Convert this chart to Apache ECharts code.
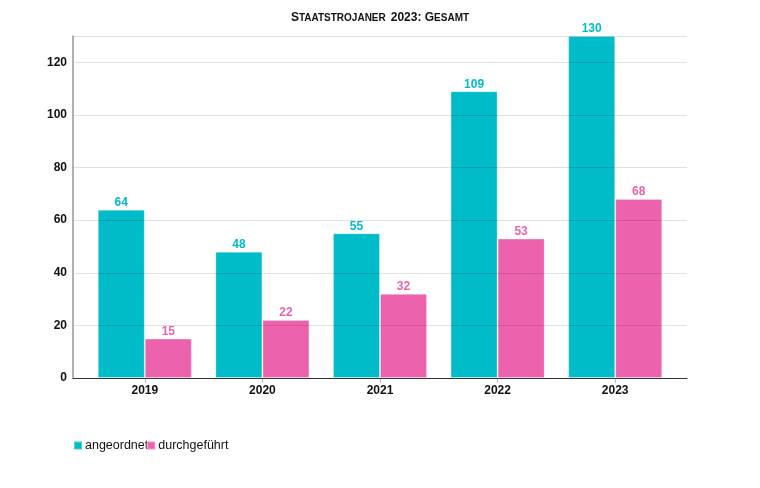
<!DOCTYPE html>
<html><head><meta charset="utf-8">
<script src="https://cdn.jsdelivr.net/npm/echarts@6/dist/echarts.min.js"></script>
<style>html,body{margin:0;padding:0;background:#fff}#c{width:760px;height:488px}</style>
</head><body><div id="c"></div>
<script>
const categories = ['2019', '2020', '2021', '2022', '2023'];
const angeordnet = [64, 48, 55, 109, 130];
const durchgefuehrt = [15, 22, 32, 53, 68];
const seriesNames = ['angeordnet', 'durchgeführt'];

const chart = echarts.init(document.getElementById('c'));
const ff = 'Liberation Sans, Arial, sans-serif';
const yMax = 130;
chart.setOption({
  animation: false,
  title: {
    text: '{b|S}{s|TAATSTROJANER} {b|2023: G}{s|ESAMT}',
    left: 'center', top: 4,
    textStyle: {
      fontFamily: ff,
      rich: {
        b: { fontSize: 12, fontWeight: 'bold', color: '#111', fontFamily: ff },
        s: { fontSize: 10, fontWeight: 'bold', color: '#111', fontFamily: ff }
      }
    }
  },
  legend: {
    left: 73, top: 439, padding: 0, itemWidth: 8, itemHeight: 8, itemGap: -2,
    icon: 'rect',
    textStyle: { fontFamily: ff, fontSize: 12.5, color: '#111', padding: [0, 0, 0, -2] },
    data: seriesNames
  },
  grid: [
    { left: 73, right: 73, top: 36, bottom: 110, containLabel: false },
    { left: 86, right: 86, top: 36, bottom: 110, containLabel: false }
  ],
  xAxis: [
    {
      type: 'category', gridIndex: 0, data: categories, z: 4,
      axisLine: { lineStyle: { color: '#333', width: 1 } },
      axisTick: { show: false }, axisLabel: { show: false }
    },
    {
      type: 'category', gridIndex: 1, data: categories,
      axisLine: { show: false },
      axisTick: { show: true, alignWithLabel: true, length: 5, lineStyle: { color: '#bbb' } },
      axisLabel: { fontFamily: ff, fontSize: 12, fontWeight: 'bold', color: '#111', margin: 7 }
    }
  ],
  yAxis: [
    {
      type: 'value', gridIndex: 0, min: 0, max: yMax, interval: 20, z: 3,
      axisLine: { show: true, lineStyle: { color: '#999', width: 1.5 } },
      axisTick: { show: false },
      splitLine: { lineStyle: { color: 'rgba(0,0,0,0.12)' } },
      axisLabel: { fontFamily: ff, fontSize: 12, fontWeight: 'bold', color: '#111', margin: 6, showMaxLabel: false }
    },
    {
      type: 'value', gridIndex: 1, min: 0, max: yMax, interval: 20,
      axisLine: { show: false }, axisTick: { show: false },
      splitLine: { show: false }, axisLabel: { show: false }
    }
  ],
  series: [
    {
      name: seriesNames[0], type: 'bar', data: angeordnet, xAxisIndex: 1, yAxisIndex: 1,
      barGap: '0%', barCategoryGap: '20%',
      itemStyle: { color: '#00bbc8', borderColor: 'rgba(255,255,255,0.3)', borderWidth: 1 },
      label: { show: true, position: 'top', distance: 1, fontFamily: ff, fontSize: 12, fontWeight: 'bold', color: '#00bcc8' }
    },
    {
      name: seriesNames[1], type: 'bar', data: durchgefuehrt, xAxisIndex: 1, yAxisIndex: 1,
      itemStyle: { color: '#ec62ac', borderColor: 'rgba(255,255,255,0.3)', borderWidth: 1 },
      label: { show: true, position: 'top', distance: 1, fontFamily: ff, fontSize: 12, fontWeight: 'bold', color: '#ec63ac' }
    }
  ]
});
</script></body></html>
